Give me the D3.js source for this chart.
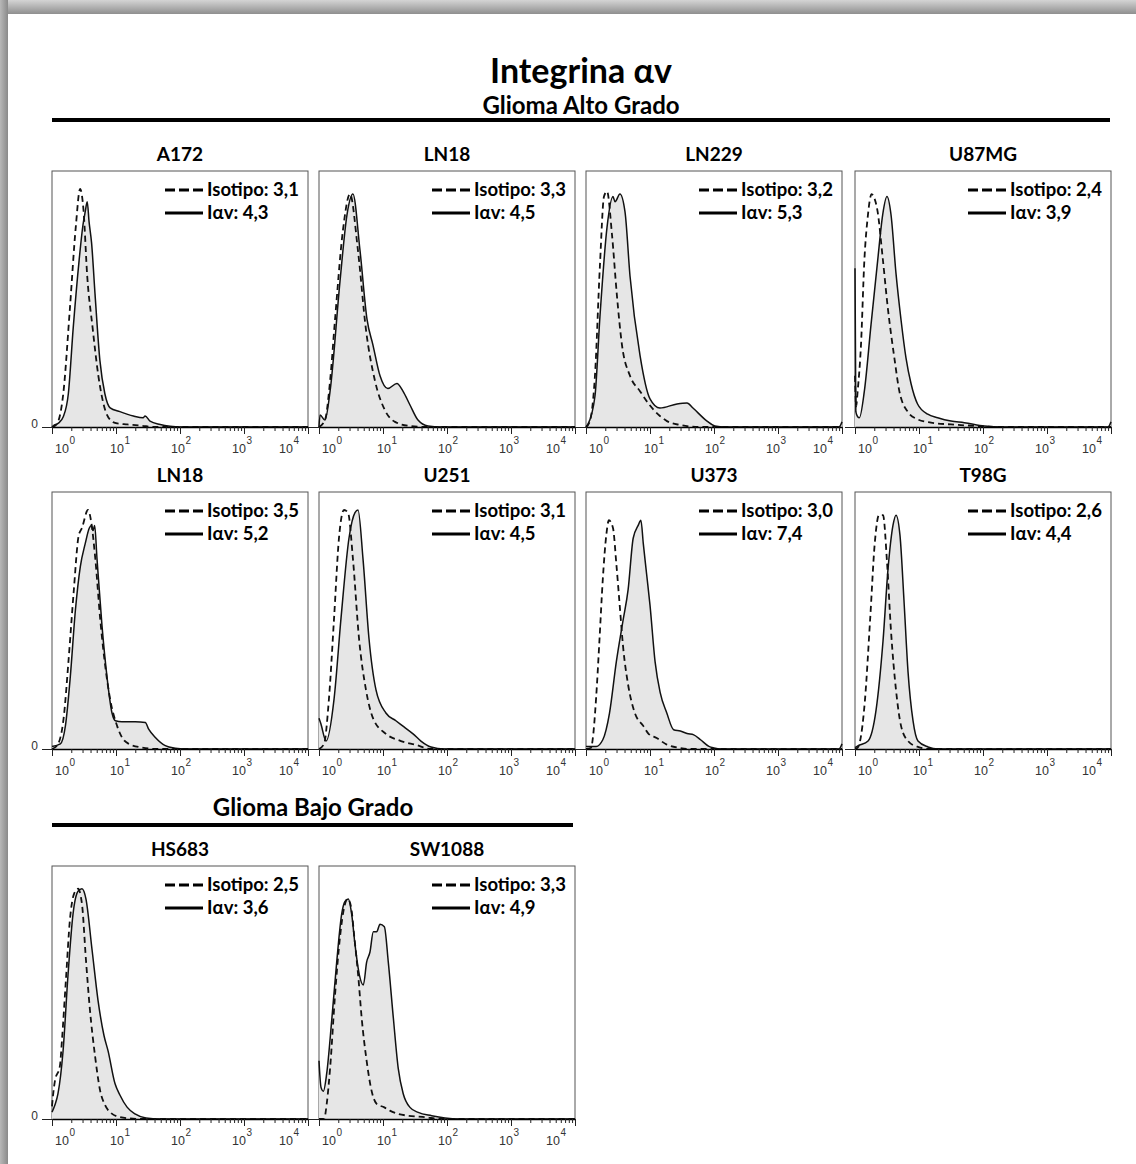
<!DOCTYPE html>
<html>
<head>
<meta charset="utf-8">
<title>Integrina αv</title>
<script src="https://d3js.org/d3.v7.min.js"></script>
<style>
  body { margin: 0; background: #fff; }
  svg { display: block; }
  .hd { font-family: Lato, "Open Sans", sans-serif; fill: #000; }
  .ax { font-family: "Liberation Sans", Arial, sans-serif; fill: #333; }
</style>
</head>
<body>
<svg id="chart"></svg>
<script>
// ---- data ----
const panelNames = ["A172", "LN18", "LN229", "U87MG", "LN18", "U251", "U373", "T98G", "HS683", "SW1088"];
const groupNames = ["Glioma Alto Grado", "Glioma Bajo Grado"];
const isoMeans = ["3,1", "3,3", "3,2", "2,4", "3,5", "3,1", "3,0", "2,6", "2,5", "3,3"];
const iavMeans = ["4,3", "4,5", "5,3", "3,9", "5,2", "4,5", "7,4", "4,4", "3,6", "4,9"];
const decades = [1, 10, 100, 1000, 10000];
const decadeExp = ["0", "1", "2", "3", "4"];

// histograms: [fluorescence, counts as % of frame height]
const isoA172 = [[1,0],[1.18,1],[1.5,13],[1.9,46],[2.35,78],[2.75,93],[3.1,85],[3.55,59],[4.3,39],[5.3,20],[6.7,7],[8,3],[10,1.5],[15,1],[25,0.5],[40,0],[10000,0]];
const iavA172 = [[1,0],[1.05,0.5],[1.26,1.5],[1.5,4],[1.8,13],[2.15,39],[2.65,65],[3.05,79],[3.3,84],[3.55,88],[3.8,80],[4.15,72],[4.7,52],[5.6,26],[6.7,13],[8.1,7.5],[11.5,6],[18.7,4.3],[26.5,3.6],[28.5,4.3],[34,2.3],[49,1],[70,0.3],[100,0],[10000,0]];

const isoLN18a = [[1,0],[1.24,2.7],[1.49,18],[1.78,42],[2.37,77],[3.05,91],[4.06,69],[5.42,38],[7.5,18],[10.7,6.6],[15.4,2],[26.4,0.4],[50,0],[10000,0]];
const iavLN18a = [[1,0],[1.04,4.7],[1.24,2.7],[1.49,14],[2.13,57],[2.74,83],[3.39,91],[4.37,69],[5.63,42],[6.97,32],[8.98,20],[11.9,15],[16.5,17],[20.5,14],[26.4,8.6],[35.2,2.7],[50.4,0.4],[80,0],[10000,0]];

const isoLN229 = [[1,0],[1.15,2.3],[1.38,20],[1.65,63],[1.91,90],[2.13,92],[2.55,75],[3.05,51],[3.65,32],[4.87,20],[6.98,14],[9.3,9.4],[14.3,4.3],[18.4,2.3],[29.4,0.8],[60,0],[10000,0]];
const iavLN229 = [[1,0],[1.07,1],[1.38,12],[1.65,43],[2.13,78],[2.64,90],[2.84,88],[3.39,91],[4.07,84],[4.87,59],[6.98,28],[10,11],[14.3,7.4],[26.4,9],[37.9,9.4],[46.9,7.4],[77.9,2.3],[103,0.4],[150,0],[9000,0],[10000,2]];

const isoU87MG = [[1,20],[1.04,8],[1.1,14],[1.24,32],[1.4,65],[1.58,82],[1.82,91],[1.96,90],[2.26,84],[2.71,66],[3.24,47],[4.12,27],[4.93,14],[6.65,6],[9.5,3],[15.4,1.7],[31.6,1],[82,0.4],[200,0],[10000,0]];
const iavU87MG = [[1,62],[1.03,6],[1.1,4],[1.17,3.6],[1.4,14],[1.78,40],[2.26,65],[2.71,83],[3.16,90],[3.65,83],[4.37,60],[5.23,42],[6.26,27],[7.5,17],[9.5,9],[13.7,5],[19.6,3.6],[31.6,2.3],[51,1.7],[105,0.4],[200,0],[9000,0],[10000,2]];

const isoLN18b = [[1,0],[1.2,1.3],[1.52,12],[1.82,35],[2.18,61],[2.61,83],[2.94,86],[3.65,93],[4.12,88],[4.75,74],[5.69,50],[6.81,32],[8.15,19],[10.4,9],[12.4,4.5],[15.8,2],[25.5,0.6],[46,0],[10000,0]];
const iavLN18b = [[1,1],[1.35,2],[1.62,9],[1.93,28],[2.32,54],[2.77,71],[3.31,80],[3.83,86],[4.12,87],[4.37,85],[4.64,87],[5.05,74],[6.04,48],[7.24,28],[8.66,14],[9.77,11],[12.4,10.6],[20,10.6],[28.7,10.3],[32.4,7.7],[41.2,4.5],[58.9,1.3],[84.5,0.3],[120,0],[10000,0]];

const isoU251 = [[1,0],[1.2,2],[1.43,19.5],[1.72,51],[2.05,82],[2.46,93],[2.84,92],[3.39,74],[4.22,43],[5.42,23],[7.06,11.7],[11.1,5.9],[19.1,3.1],[32.7,1.6],[56,0],[10000,0]];
const iavU251 = [[1,12],[1.07,9.8],[1.29,3.1],[1.72,19.5],[2.21,51],[2.94,82],[3.65,92],[4.07,93],[4.87,74],[6.04,43],[7.77,23],[11.1,14],[15.9,11],[21.3,8.6],[29.5,5.9],[39.1,3.1],[56.2,0.8],[90,0],[10000,0]];

const isoU373 = [[1,0],[1.2,0.5],[1.27,3.6],[1.44,20],[1.62,42],[1.83,66],[2.07,83],[2.28,89],[2.64,86],[2.98,72],[3.36,56],[3.79,40],[4.55,25],[5.8,14],[7.85,9],[9.42,6],[12.7,4.3],[18.3,1.7],[29.8,0.4],[42.7,0],[10000,0]];
const iavU373 = [[1,1],[1.44,1],[1.83,3.6],[2.33,14],[2.98,34],[3.79,50],[4.55,62],[5.46,82],[6.54,87],[7.21,89],[7.85,80],[8.86,68],[10,56],[12,34],[14.4,22],[18.3,14],[23.4,7.5],[29.8,7],[37.9,6],[48.3,5.5],[61.6,3.6],[83.3,1],[100,0.4],[127,0],[9000,0],[10000,2]];

const isoT98G = [[1,0],[1.1,0.5],[1.2,3.1],[1.43,19],[1.72,50],[2.05,81],[2.37,91],[2.74,91],[3.16,73],[3.65,46],[4.37,23],[5.24,9],[6.74,3.1],[9.64,0.8],[15,0],[10000,0]];
const iavT98G = [[1,0.5],[1.11,1.2],[1.6,3.1],[2.13,15],[2.74,42],[3.28,70],[3.92,87],[4.37,91],[5.05,83],[5.82,58],[6.74,30],[8.06,11],[9.64,3.1],[13.8,0.8],[20,0],[10000,0]];

const isoHS683 = [[1,5],[1.04,9.5],[1.11,15],[1.33,21],[1.43,31],[1.65,55],[1.91,79],[2.21,89],[2.55,91],[2.94,85],[3.39,63],[3.92,43],[4.7,25],[5.62,11.5],[6.74,5.5],[8.35,2.4],[11.5,0.8],[23.7,0],[10000,0]];
const iavHS683 = [[1,2.7],[1.11,5.5],[1.24,10],[1.49,27],[1.78,57],[2.13,81],[2.55,90],[2.94,91],[3.39,87],[4.22,67],[5.23,47],[6.49,33],[7.5,27],[9.64,14],[11.5,9.5],[14.9,4.7],[19.8,2],[29.4,0.4],[48.7,0],[10000,0]];

const isoSW1088 = [[1,0],[1.2,0],[1.32,6],[1.49,20],[1.78,49],[2.13,72],[2.49,84],[2.8,87],[3.16,84],[3.56,72],[4.12,56],[4.64,40],[5.55,23],[6.65,11],[7.96,6],[10.5,4.6],[12.8,3.3],[17.3,2],[24.8,1.3],[45.2,0.7],[82.5,0],[10000,0]];
const iavSW1088 = [[1,23],[1.075,12.5],[1.17,11],[1.32,18],[1.58,39],[1.89,62],[2.26,81],[2.55,86],[2.87,87],[3.24,81],[3.65,69],[4.27,57],[4.93,53],[5.55,62],[6.26,66],[7.06,74],[7.96,74],[8.98,77],[10.5,76],[12.1,62],[14.5,40],[17.3,20],[20.7,10],[26.4,4.6],[35.5,2.6],[57.6,1.3],[92.9,0.4],[150,0],[10000,0]];

const isoCurves = [isoA172, isoLN18a, isoLN229, isoU87MG, isoLN18b, isoU251, isoU373, isoT98G, isoHS683, isoSW1088];
const iavCurves = [iavA172, iavLN18a, iavLN229, iavU87MG, iavLN18b, iavU251, iavU373, iavT98G, iavHS683, iavSW1088];

// ---- layout ----
const W = 1136, H = 1164;
const colX = [52, 319, 586, 855];
const rows = [{ top: 171, base: 427 }, { top: 492, base: 749 }, { top: 866, base: 1119 }];
const boxW = 256;
const labelNudge = [10, 1, -2, -5, -22];

const svg = d3.select("#chart").attr("width", W).attr("height", H);

// grey page frame with shadow
const defs = svg.append("defs");
const gTop = defs.append("linearGradient").attr("id", "gTop").attr("x1", 0).attr("y1", 0).attr("x2", 0).attr("y2", 1);
gTop.append("stop").attr("offset", "0%").attr("stop-color", "#d4d4d4");
gTop.append("stop").attr("offset", "100%").attr("stop-color", "#8f8f8f");
const gLeft = defs.append("linearGradient").attr("id", "gLeft").attr("x1", 0).attr("y1", 0).attr("x2", 1).attr("y2", 0);
gLeft.append("stop").attr("offset", "0%").attr("stop-color", "#b8b8b8");
gLeft.append("stop").attr("offset", "100%").attr("stop-color", "#8a8a8a");
svg.append("rect").attr("x", 0).attr("y", 0).attr("width", W).attr("height", 14).attr("fill", "url(#gTop)");
svg.append("rect").attr("x", 0).attr("y", 0).attr("width", 8).attr("height", H).attr("fill", "url(#gLeft)");
svg.append("rect").attr("x", 8).attr("y", 14).attr("width", W - 8).attr("height", H - 14).attr("fill", "#fff");

// headings
svg.append("text").attr("class", "hd").attr("x", 581).attr("y", 83)
  .attr("text-anchor", "middle").style("font-size", "34px").style("font-weight", 700)
  .text("Integrina αv");
svg.append("text").attr("class", "hd").attr("x", 581).attr("y", 114)
  .attr("text-anchor", "middle").style("font-size", "24px").style("font-weight", 700)
  .text(groupNames[0]);
svg.append("line").attr("x1", 52).attr("x2", 1110).attr("y1", 120).attr("y2", 120)
  .attr("stroke", "#000").attr("stroke-width", 4);
svg.append("text").attr("class", "hd").attr("x", 313).attr("y", 816)
  .attr("text-anchor", "middle").style("font-size", "24px").style("font-weight", 700)
  .text(groupNames[1]);
svg.append("line").attr("x1", 52).attr("x2", 573).attr("y1", 825).attr("y2", 825)
  .attr("stroke", "#000").attr("stroke-width", 4);

panelNames.forEach((name, i) => {
  const r = i < 4 ? 0 : i < 8 ? 1 : 2;
  const c = i < 8 ? i % 4 : i - 8;
  const { top, base } = rows[r];
  const g = svg.append("g").attr("transform", `translate(${colX[c]},0)`);

  const x = d3.scaleLog().domain([1, 10000]).range([0, boxW]);
  const y = d3.scaleLinear().domain([0, 100]).range([base, top]);

  g.append("text").attr("class", "hd").attr("x", boxW / 2).attr("y", top - 10)
    .attr("text-anchor", "middle").style("font-size", "19px").style("font-weight", 700)
    .text(name);

  g.append("rect").attr("x", 0).attr("y", top).attr("width", boxW).attr("height", base - top)
    .attr("fill", "none").attr("stroke", "#555").attr("stroke-width", 1);

  const area = d3.area().x(d => x(d[0])).y0(base).y1(d => y(d[1])).curve(d3.curveMonotoneX);
  const line = d3.line().x(d => x(d[0])).y(d => y(d[1])).curve(d3.curveMonotoneX);

  g.append("path").datum(iavCurves[i]).attr("d", area).attr("fill", "#e6e6e6");
  g.append("path").datum(isoCurves[i]).attr("d", line).attr("fill", "none")
    .attr("stroke", "#111").attr("stroke-width", 1.8).attr("stroke-dasharray", "6,4");
  g.append("path").datum(iavCurves[i]).attr("d", line).attr("fill", "none")
    .attr("stroke", "#111").attr("stroke-width", 1.5);

  // x axis: decade + minor ticks
  const xa = g.append("g").attr("transform", `translate(0,${base})`)
    .call(d3.axisBottom(x).tickValues(x.ticks()).tickSize(4).tickSizeOuter(0).tickFormat(""));
  xa.select(".domain").attr("stroke", "#000").attr("stroke-width", 1.5);
  xa.selectAll(".tick line").attr("stroke", "#222")
    .attr("y2", d => decades.includes(d) ? 7 : 4);

  decades.forEach((v, k) => {
    const lx = x(v) + labelNudge[k];
    g.append("text").attr("class", "ax").attr("x", lx).attr("y", base + 26)
      .attr("text-anchor", "middle").style("font-size", "12.5px").text("10");
    g.append("text").attr("class", "ax").attr("x", lx + 7.5).attr("y", base + 17)
      .style("font-size", "10px").text(decadeExp[k]);
  });

  // y axis: only the zero tick; its label shows in the first column only
  const ya = g.append("g").call(d3.axisLeft(y).tickValues([0]).tickSize(10).tickPadding(4));
  ya.select(".domain").remove();
  ya.selectAll(".tick line").attr("stroke", "#222");
  if (c === 0) {
    ya.selectAll(".tick text").attr("class", "ax").attr("dy", "0.05em").style("font-size", "12px")
      .style("fill", "#333");
  } else {
    ya.selectAll(".tick text").remove();
  }

  // legend
  const lg = g.append("g").attr("transform", `translate(113,${top})`);
  lg.append("line").attr("x1", 0).attr("x2", 38).attr("y1", 19).attr("y2", 19)
    .attr("stroke", "#000").attr("stroke-width", 3).attr("stroke-dasharray", "10,4");
  lg.append("line").attr("x1", 0).attr("x2", 38).attr("y1", 42).attr("y2", 42)
    .attr("stroke", "#000").attr("stroke-width", 3);
  lg.append("text").attr("class", "hd").attr("x", 42).attr("y", 25)
    .style("font-size", "18.5px").style("font-weight", 700).text("Isotipo: " + isoMeans[i]);
  lg.append("text").attr("class", "hd").attr("x", 42).attr("y", 48)
    .style("font-size", "18.5px").style("font-weight", 700).text("Iαv: " + iavMeans[i]);
});
</script>
</body>
</html>
